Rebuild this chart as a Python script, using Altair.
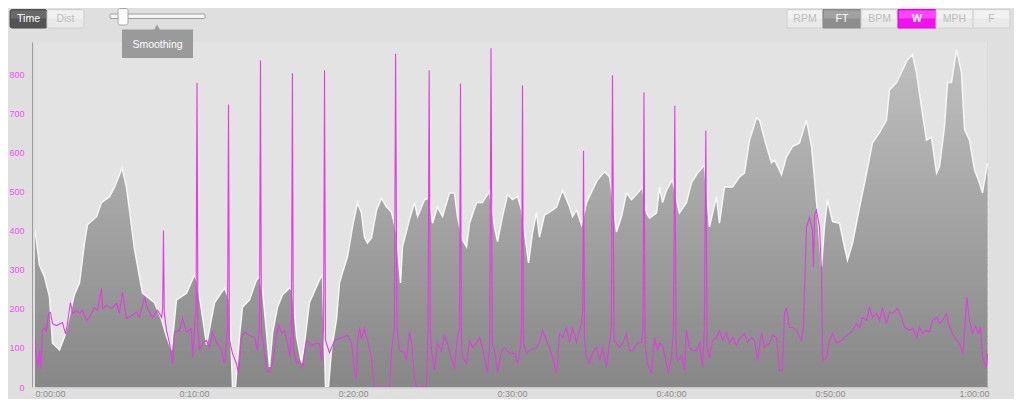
import altair as alt
import numpy as np
import pandas as pd

# ---------------- data ----------------
# Elevation (FT) profile: minutes, feet
ft_time = [0.0, 0.28, 0.60, 0.91, 1.10, 1.54, 1.86, 2.48, 2.80, 3.11,
           3.30, 3.87, 4.18, 4.69, 5.00, 5.48, 5.75, 5.94, 6.26, 6.76,
           7.52, 7.96, 8.27, 8.58, 8.90, 9.53, 10.03, 10.22, 10.79, 11.29,
           11.92, 12.23, 12.42, 12.61, 12.86, 13.05, 13.49, 13.93, 14.12, 14.31,
           14.56, 14.75, 14.94, 15.25, 15.57, 16.01, 16.19, 16.45, 16.76, 16.95,
           17.26, 17.89, 18.08, 18.27, 18.46, 18.65, 18.96, 19.15, 19.34, 19.65,
           19.97, 20.28, 20.53, 20.72, 20.91, 21.16, 21.48, 21.79, 22.11, 22.42,
           22.74, 22.99, 23.11, 23.55, 23.87, 24.06, 24.50, 24.81, 25.00, 25.31,
           25.63, 26.07, 26.38, 26.57, 26.89, 27.14, 27.33, 27.77, 28.14, 28.58,
           28.90, 29.09, 29.40, 29.72, 30.03, 30.35, 30.60, 30.79, 31.04, 31.29,
           31.54, 31.73, 32.04, 32.36, 32.80, 33.18, 33.62, 33.81, 34.06, 34.37,
           34.69, 35.06, 35.38, 35.82, 36.13, 36.32, 36.57, 36.89, 37.20, 37.52,
           37.83, 38.21, 38.46, 38.65, 39.09, 39.28, 39.47, 39.72, 40.09, 40.35,
           40.53, 40.97, 41.29, 41.67, 42.11, 42.42, 42.86, 43.05, 43.36, 43.87,
           44.31, 44.62, 44.94, 45.38, 45.57, 46.01, 46.32, 46.51, 46.95, 47.26,
           47.64, 48.08, 48.52, 48.84, 49.03, 49.21, 49.47, 49.65, 49.84, 50.16,
           50.60, 50.91, 51.10, 51.42, 51.86, 52.30, 52.67, 53.11, 53.55, 53.74,
           54.18, 54.56, 54.87, 55.19, 55.44, 55.75, 56.07, 56.38, 56.70, 56.89,
           57.20, 57.39, 57.64, 57.96, 58.27, 58.46, 58.77, 59.09, 59.40, 59.59,
           59.91]
ft_value = [941.9, 937.1, 935.5, 932.8, 926.5, 925.6, 927.4, 933.1, 934.7, 940.1,
            942.6, 943.7, 945.6, 946.4, 947.7, 950.3, 947.7, 944.6, 939.2, 933.3,
            932.0, 929.7, 927.4, 925.6, 932.4, 933.3, 935.8, 934.7, 926.3, 932.0,
            934.0, 932.4, 920.6, 920.6, 927.4, 931.4, 932.4, 935.1, 935.5, 933.7,
            927.9, 923.3, 927.9, 931.4, 933.1, 934.0, 933.7, 927.4, 923.8, 926.5,
            932.0, 935.1, 935.8, 920.6, 920.6, 925.6, 929.7, 934.7, 936.1, 938.2,
            942.3, 945.6, 944.2, 940.9, 940.1, 940.8, 944.6, 946.2, 945.0, 944.3,
            941.5, 934.7, 939.6, 943.3, 945.6, 943.7, 946.0, 946.2, 942.8, 945.0,
            943.7, 946.9, 946.9, 943.7, 940.5, 939.6, 942.8, 945.6, 945.6, 947.1,
            942.3, 940.3, 943.7, 946.7, 946.0, 946.4, 944.6, 941.5, 937.4, 941.5,
            944.3, 940.9, 943.9, 944.3, 945.0, 947.3, 945.0, 943.7, 944.6, 942.6,
            945.6, 947.3, 948.7, 949.8, 949.1, 946.4, 941.6, 943.7, 946.9, 946.0,
            946.7, 947.7, 944.2, 943.5, 944.2, 947.7, 945.6, 947.3, 948.7, 946.0,
            944.2, 945.6, 948.3, 949.6, 950.7, 942.3, 946.4, 942.8, 947.7, 947.7,
            949.1, 949.6, 954.1, 957.1, 956.8, 953.2, 951.0, 951.4, 949.4, 951.8,
            953.2, 953.7, 956.8, 953.2, 948.7, 944.2, 936.9, 942.3, 946.0, 943.0,
            942.8, 939.6, 937.8, 940.1, 945.0, 949.6, 953.7, 955.1, 956.8, 960.9,
            961.9, 963.6, 965.0, 965.7, 963.2, 958.6, 954.1, 954.5, 949.6, 950.5,
            955.9, 961.9, 961.9, 966.4, 963.2, 955.5, 954.1, 950.0, 948.3, 946.9,
            951.0]

# Power (W): minutes, watts
w_time = [0.00, 0.03, 0.16, 0.28, 0.35, 0.47, 0.66, 0.72, 0.85, 0.97,
          1.10, 1.35, 1.73, 1.92, 2.04, 2.23, 2.36, 2.61, 2.80, 2.99,
          3.24, 3.43, 3.74, 3.93, 4.18, 4.25, 4.50, 4.81, 5.13, 5.31,
          5.50, 5.75, 6.07, 6.38, 6.57, 6.89, 7.08, 7.39, 7.70, 7.96,
          8.03, 8.08, 8.13, 8.27, 8.46, 8.65, 8.77, 9.09, 9.28, 9.53,
          9.84, 9.91, 10.13, 10.19, 10.25, 10.35, 10.53, 10.79, 10.97, 11.16,
          11.42, 11.74, 11.92, 12.11, 12.17, 12.23, 12.42, 12.67, 12.80, 12.99,
          13.18, 13.49, 13.81, 13.99, 14.12, 14.18, 14.24, 14.31, 14.56, 14.75,
          14.94, 15.19, 15.31, 15.50, 15.69, 15.88, 16.04, 16.13, 16.19, 16.25,
          16.45, 16.64, 16.82, 17.08, 17.39, 17.70, 17.89, 18.02, 18.15, 18.21,
          18.27, 18.52, 18.84, 19.15, 19.34, 19.65, 19.91, 20.09, 20.22, 20.28,
          20.41, 20.53, 20.72, 20.91, 21.16, 21.29, 21.35, 22.30, 22.42, 22.60,
          22.68, 22.76, 22.92, 23.24, 23.36, 23.55, 23.70, 23.87, 23.99, 24.62,
          24.72, 24.79, 24.86, 24.94, 25.13, 25.31, 25.57, 25.75, 25.94, 26.19,
          26.38, 26.57, 26.70, 26.76, 26.82, 26.89, 27.14, 27.33, 27.52, 27.77,
          27.96, 28.14, 28.46, 28.60, 28.68, 28.76, 28.90, 29.09, 29.34, 29.53,
          29.84, 30.16, 30.35, 30.53, 30.60, 30.66, 30.72, 30.91, 31.10, 31.54,
          31.73, 31.92, 32.17, 32.36, 32.55, 32.80, 32.99, 33.18, 33.43, 33.62,
          33.81, 34.06, 34.25, 34.37, 34.45, 34.50, 34.56, 34.69, 34.87, 35.06,
          35.31, 35.50, 35.69, 35.94, 36.07, 36.25, 36.32, 36.42, 36.57, 36.76,
          36.95, 37.20, 37.39, 37.58, 37.89, 38.14, 38.24, 38.30, 38.37, 38.52,
          38.77, 38.96, 39.15, 39.28, 39.47, 39.72, 39.84, 40.03, 40.16, 40.24,
          40.32, 40.41, 40.66, 40.85, 40.97, 41.16, 41.35, 41.60, 41.79, 41.98,
          42.10, 42.19, 42.27, 42.42, 42.61, 42.86, 43.05, 43.24, 43.49, 43.68,
          43.87, 44.12, 44.31, 44.62, 44.81, 45.06, 45.25, 45.44, 45.69, 45.88,
          46.20, 46.39, 46.64, 46.82, 47.01, 47.14, 47.26, 47.45, 47.64, 47.89,
          48.21, 48.33, 48.52, 48.71, 48.90, 48.96, 49.03, 49.15, 49.34, 49.47,
          49.53, 49.78, 49.97, 50.16, 50.41, 50.72, 50.91, 51.23, 51.42, 51.67,
          51.86, 52.04, 52.30, 52.48, 52.67, 52.92, 53.11, 53.30, 53.55, 53.74,
          53.93, 54.25, 54.50, 54.69, 55.00, 55.19, 55.44, 55.63, 55.82, 56.07,
          56.26, 56.45, 56.70, 56.89, 57.08, 57.33, 57.45, 57.70, 57.96, 58.14,
          58.36, 58.61, 58.77, 58.96, 59.15, 59.34, 59.47, 59.59, 59.84, 59.91]
w_value = [124, 93, 50, 93, 47, 145, 152, 140, 188, 191,
           162, 157, 165, 136, 162, 216, 188, 196, 188, 196,
           170, 178, 203, 196, 252, 201, 208, 201, 214, 188,
           242, 175, 183, 191, 178, 229, 201, 178, 196, 178,
           200, 400, 190, 145, 112, 60, 140, 145, 175, 140,
           150, 75, 200, 778, 150, 93, 112, 119, 101, 140,
           114, 93, 60, 150, 722, 120, 86, 60, 35, 127,
           140, 132, 127, 93, 150, 835, 130, 127, 42, 37,
           60, 132, 162, 137, 145, 112, 75, 150, 802, 100,
           60, 68, 50, 119, 106, 112, 112, 68, 150, 810,
           120, 88, 119, 124, 127, 132, 112, 42, 22, 112,
           152, 124, 150, 119, 75, 17, 0, 0, 93, 150,
           852, 150, 93, 88, 68, 140, 110, 24, 0, 0,
           150, 810, 140, 93, 42, 112, 93, 132, 112, 73,
           47, 127, 150, 776, 110, 75, 60, 119, 101, 112,
           127, 101, 37, 112, 866, 110, 93, 37, 93, 101,
           86, 86, 60, 101, 150, 771, 110, 86, 93, 101,
           114, 145, 119, 101, 75, 35, 137, 127, 152, 114,
           152, 114, 145, 162, 200, 604, 120, 75, 60, 86,
           101, 68, 101, 50, 93, 150, 797, 120, 112, 101,
           112, 137, 93, 93, 112, 114, 150, 753, 110, 60,
           35, 127, 93, 112, 106, 60, 35, 75, 150, 719,
           100, 68, 80, 42, 145, 101, 93, 93, 112, 50,
           150, 656, 100, 73, 119, 127, 145, 119, 140, 112,
           127, 106, 124, 137, 114, 127, 119, 68, 140, 101,
           112, 132, 127, 42, 42, 188, 203, 152, 152, 145,
           119, 152, 408, 433, 400, 306, 440, 452, 408, 290,
           68, 75, 119, 137, 112, 119, 127, 137, 145, 162,
           152, 178, 170, 203, 178, 188, 170, 203, 162, 191,
           188, 201, 178, 152, 145, 150, 127, 152, 137, 145,
           140, 170, 178, 162, 170, 188, 162, 137, 119, 112,
           86, 229, 170, 137, 155, 137, 152, 75, 50, 86]

assert len(ft_time) == len(ft_value), (len(ft_time), len(ft_value))
assert len(w_time) == len(w_value), (len(w_time), len(w_value))

w_ticks = [0, 100, 200, 300, 400, 500, 600, 700, 800]
ft_ticks = [927.2, 935.45, 943.7, 951.95, 960.2]
x_ticks = [0, 10, 20, 30, 40, 50, 60]
mode_buttons = ["Time", "Dist"]
series_buttons = ["RPM", "FT", "BPM", "W", "MPH", "F"]
slider_label = "Smoothing"

# ---------------- layout ----------------
FONT = "Liberation Sans"
PLOT_W, PLOT_H = 954, 345
OX, OY = 35, 42          # page position of the plot origin
BG = "#e0dfdf"
VIEW_BG = "#e4e3e3"
MAGENTA = "#e23ce2"
FT_LO, FT_HI = 920.56, 967.4

ft_df = pd.DataFrame({"t": ft_time, "ft": ft_value})
w_df = pd.DataFrame({"t": w_time, "w": w_value})

# vertical shading: horizontal colour bands spanning the profile's time range,
# then the part above the profile is covered with the view background
N_BANDS = 48
edges = np.linspace(FT_LO, FT_HI, N_BANDS + 1)
top_rgb = np.array([0xc1, 0xc1, 0xc1])
bot_rgb = np.array([0x87, 0x87, 0x87])
band_colors = []
for k in range(N_BANDS):
    f = (k + 0.5) / N_BANDS
    c = (bot_rgb + (top_rgb - bot_rgb) * f).round().astype(int)
    band_colors.append("#%02x%02x%02x" % tuple(c))
band_df = pd.DataFrame({
    "band": list(range(N_BANDS)),
    "lo": edges[:-1],
    "hi": edges[1:] + 0.1,
    "t0": [ft_time[0]] * N_BANDS,
    "t1": [ft_time[-1]] * N_BANDS,
})

x_scale = alt.Scale(domain=[0, 60], nice=False, zero=False)
x_axis = alt.Axis(values=x_ticks, title=None, grid=False, tickSize=0,
                  labelExpr="floor(datum.value/60) + ':' + (datum.value % 60 < 10 ? '0' : '') + (datum.value % 60) + ':00'",
                  labelColor="#8c8c8c", labelFont=FONT, labelFontSize=9,
                  labelPadding=2, domainColor="#cbcbcb", domainWidth=2)
x_enc = alt.X("t:Q", scale=x_scale, axis=x_axis)

ft_scale = alt.Scale(domain=[FT_LO, FT_HI], nice=False, zero=False)
ft_axis = alt.Axis(orient="right", values=ft_ticks, title=None, grid=False,
                   tickSize=0, labelExpr="floor(datum.value)",
                   labelColor="#8ea6c4", labelFont=FONT, labelFontSize=9,
                   labelPadding=5, domainColor="#a8a8a8")

bands = alt.Chart(band_df).mark_rect(opacity=1, clip=True).encode(
    x=alt.X("t0:Q", scale=x_scale, axis=x_axis),
    x2="t1:Q",
    y=alt.Y("lo:Q", scale=ft_scale, axis=ft_axis),
    y2="hi:Q",
    color=alt.Color("band:O", scale=alt.Scale(domain=list(range(N_BANDS)), range=band_colors),
                    legend=None),
)

mask = alt.Chart(ft_df).mark_area(color=VIEW_BG, opacity=1, clip=True).encode(
    x=x_enc,
    y=alt.Y("ft:Q", scale=ft_scale, axis=None),
    y2=alt.datum(FT_HI),
)

edge = alt.Chart(ft_df).mark_line(color="#f6f6f6", strokeWidth=1.5, clip=True).encode(
    x=x_enc, y=alt.Y("ft:Q", scale=ft_scale, axis=None))

ft_layer = alt.layer(bands, mask, edge)

wline = alt.Chart(w_df).mark_line(color=MAGENTA, strokeWidth=1.1, clip=True).encode(
    x=x_enc,
    y=alt.Y("w:Q",
            scale=alt.Scale(domain=[0, 882], nice=False, zero=True),
            axis=alt.Axis(orient="left", values=w_ticks, title=None, grid=False,
                          tickSize=0, offset=3, labelColor="#f050f0", labelFont=FONT,
                          labelFontSize=9, labelPadding=8, domainColor="#9c9c9c")),
)

# ---------------- UI decorations ----------------
one = pd.DataFrame({"k": [0]})


def ui_rect(x0, y0, x1, y1, fill, stroke=None, radius=2):
    kw = dict(fill=fill, cornerRadius=radius)
    if stroke:
        kw.update(stroke=stroke, strokeWidth=1)
    return alt.Chart(one).mark_rect(**kw).encode(
        x=alt.value(x0 - OX), x2=alt.value(x1 - OX),
        y=alt.value(y0 - OY), y2=alt.value(y1 - OY))


def ui_text(x, y, s, color, size=10, weight="normal"):
    return alt.Chart(one).mark_text(
        text=s, color=color, fontSize=size, fontWeight=weight, font=FONT,
        align="center", baseline="middle").encode(
        x=alt.value(x - OX), y=alt.value(y - OY))


def button(x0, x1, top_col, bot_col, stroke, radius):
    # two-tone fill to imitate the glossy button gradient
    return [ui_rect(x0, 9.5, x1, 28, bot_col, stroke, radius),
            ui_rect(x0 + 1, 10.5, x1 - 1, 18.5, top_col, None, 1)]


ui = []
# Time / Dist toggle
mode_edges = [10, 47, 84]
for i, name in enumerate(mode_buttons):
    x0, x1 = mode_edges[i], mode_edges[i + 1]
    if i == 0:
        ui += button(x0, x1, "#6a6a6a", "#535353", "#4f4f4f", 2)
        ui.append(ui_text((x0 + x1) / 2, 19, name, "#ffffff", 10.5))
    else:
        ui += button(x0, x1, "#f0f0f0", "#e9e9e9", "#cfcfcf", 2)
        ui.append(ui_text((x0 + x1) / 2, 19, name, "#bdbdbd", 10.5))

# slider
ui.append(ui_rect(110, 14, 205, 18.5, "#f6f6f6", "#9e9e9e", 1))
ui.append(ui_rect(118, 8.5, 128, 25, "#fbfbfb", "#a8a8a8", 2))
ui.append(alt.Chart(one).mark_point(shape="triangle-up", filled=True, size=45,
                                    color="#9a9a9a", opacity=1).encode(
    x=alt.value(157 - OX), y=alt.value(27.5 - OY)))
ui.append(ui_rect(122, 29.5, 193, 58, "#9a9a9a", None, 0))
ui.append(ui_text(157.5, 45, slider_label, "#ffffff", 10.5))

# series buttons
series_edges = [787, 823, 861, 898, 936, 973, 1010]
for i, name in enumerate(series_buttons):
    x0, x1 = series_edges[i], series_edges[i + 1]
    cx = (x0 + x1) / 2
    if name == "FT":
        ui += button(x0, x1, "#a2a2a2", "#8d8d8d", "#8a8a8a", 0)
        ui.append(ui_text(cx, 19, name, "#ffffff", 10.5))
    elif name == "W":
        ui += button(x0, x1, "#fb44fb", "#f010f0", "#e000e0", 0)
        ui.append(ui_text(cx, 19, name, "#ffffff", 10.5, "bold"))
    else:
        ui += button(x0, x1, "#f1f1f1", "#e9e9e9", "#d0d0d0", 0)
        ui.append(ui_text(cx, 19, name, "#bcbcbc", 10.5))

chart = alt.layer(ft_layer, wline, *ui).resolve_scale(y="independent").properties(
    width=PLOT_W, height=PLOT_H,
    padding={"left": OX - 8, "top": OY - 8, "right": 1006 - PLOT_W - (OX - 8), "bottom": 391 - PLOT_H - (OY - 8)},
    autosize=alt.AutoSizeParams(type="none"),
).configure(background=BG).configure_view(fill=VIEW_BG, strokeWidth=0)

chart.save("out.html", embed_options={"renderer": "svg", "actions": False})
